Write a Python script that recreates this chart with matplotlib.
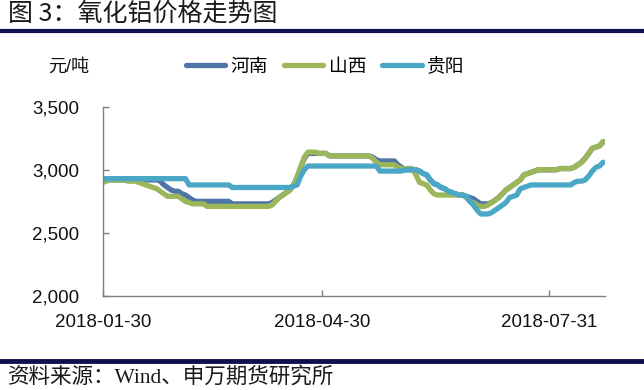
import matplotlib
matplotlib.use('Agg')
import matplotlib.pyplot as plt
from matplotlib.lines import Line2D
import numpy as np

plt.rcParams['font.family'] = ['Liberation Sans', 'Noto Sans CJK SC']
plt.rcParams['axes.unicode_minus'] = False

# 氧化铝价格（元/吨），按交易日排列
henan = [2920, 2920, 2920, 2920, 2920, 2920, 2920, 2920, 2920, 2920,
         2920, 2920, 2920, 2920, 2920, 2920, 2910, 2880, 2860, 2840,
         2830, 2830, 2810, 2800, 2780, 2760, 2750, 2750, 2750, 2750,
         2750, 2750, 2750, 2750, 2750, 2750, 2730, 2730, 2730, 2730,
         2730, 2730, 2730, 2730, 2730, 2730, 2730, 2740, 2760, 2780,
         2800, 2820, 2840, 2880, 2940, 3020, 3090, 3130, 3130, 3130,
         3130, 3130, 3130, 3110, 3110, 3110, 3110, 3110, 3110, 3110,
         3110, 3110, 3110, 3110, 3110, 3100, 3080, 3070, 3070, 3070,
         3070, 3070, 3040, 3020, 3000, 3000, 3000, 3000, 2990, 2970,
         2960, 2920, 2890, 2880, 2860, 2850, 2830, 2820, 2810, 2800,
         2800, 2790, 2780, 2770, 2750, 2730, 2730, 2730, 2740, 2760,
         2780, 2810, 2840, 2860, 2880, 2900, 2920, 2960, 2970, 2980,
         2990, 3000, 3000, 3000, 3000, 3000, 3000, 3010, 3010, 3010,
         3010, 3020, 3040, 3060, 3090, 3130, 3170, 3180, 3190, 3220]

shanxi = [2900, 2910, 2920, 2920, 2920, 2920, 2920, 2910, 2910, 2910,
          2900, 2890, 2880, 2870, 2860, 2850, 2830, 2810, 2790, 2790,
          2790, 2790, 2770, 2750, 2740, 2730, 2730, 2730, 2730, 2710,
          2710, 2710, 2710, 2710, 2710, 2710, 2710, 2710, 2710, 2710,
          2710, 2710, 2710, 2710, 2710, 2710, 2710, 2720, 2750, 2780,
          2800, 2820, 2840, 2880, 2940, 3020, 3100, 3140, 3140, 3140,
          3130, 3130, 3130, 3110, 3110, 3110, 3110, 3110, 3110, 3110,
          3110, 3110, 3110, 3110, 3110, 3090, 3060, 3040, 3040, 3040,
          3040, 3040, 3020, 3010, 3010, 3010, 3010, 2960, 2900, 2890,
          2880, 2840, 2810, 2800, 2800, 2800, 2800, 2800, 2800, 2800,
          2800, 2780, 2750, 2740, 2720, 2710, 2710, 2720, 2740, 2760,
          2780, 2810, 2840, 2860, 2880, 2900, 2920, 2960, 2970, 2980,
          2990, 3000, 3000, 3000, 3000, 3000, 3000, 3010, 3010, 3010,
          3010, 3020, 3040, 3060, 3090, 3130, 3170, 3180, 3190, 3225]

guiyang = [2930, 2930, 2930, 2930, 2930, 2930, 2930, 2930, 2930, 2930,
           2930, 2930, 2930, 2930, 2930, 2930, 2930, 2930, 2930, 2930,
           2930, 2930, 2930, 2930, 2880, 2880, 2880, 2880, 2880, 2880,
           2880, 2880, 2880, 2880, 2880, 2880, 2860, 2860, 2860, 2860,
           2860, 2860, 2860, 2860, 2860, 2860, 2860, 2860, 2860, 2860,
           2860, 2860, 2860, 2870, 2880, 2950, 3000, 3030, 3030, 3030,
           3030, 3030, 3030, 3030, 3030, 3030, 3030, 3030, 3030, 3030,
           3030, 3030, 3030, 3030, 3030, 3030, 3030, 2990, 2990, 2990,
           2990, 2990, 2990, 2990, 3000, 3000, 3000, 3000, 2990, 2970,
           2960, 2920, 2890, 2880, 2860, 2850, 2830, 2820, 2810, 2800,
           2800, 2790, 2750, 2720, 2680, 2650, 2650, 2650, 2660, 2680,
           2700, 2720, 2740, 2780, 2790, 2800, 2850, 2860, 2870, 2880,
           2880, 2880, 2880, 2880, 2880, 2880, 2880, 2880, 2880, 2880,
           2880, 2900, 2910, 2910, 2920, 2950, 2990, 3020, 3030, 3060]

series_names = ['河南', '山西', '贵阳']
series_colors = ['#4F74A8', '#9BB75A', '#4AA8C6']
tick_days = [0, 61, 124]
tick_labels = ['2018-01-30', '2018-04-30', '2018-07-31']
y_ticks = [2000, 2500, 3000, 3500]

fig = plt.figure(figsize=(6.44, 3.90), dpi=100)
ax = fig.add_axes([0.1595, 0.241, 0.7798, 0.4854])

x = np.arange(len(henan))
for vals, name, col in zip([henan, shanxi, guiyang], series_names, series_colors):
    ax.plot(x, vals, color=col, lw=3.8, label=name,
            solid_joinstyle='round', solid_capstyle='round')

ax.set_xlim(0, 139.5)
ax.set_ylim(2000, 3500)
ax.set_yticks(y_ticks)
ax.set_yticklabels([f'{v:,}' for v in y_ticks])
ax.set_xticks(tick_days)
ax.set_xticklabels(tick_labels)

for s in ['top', 'right']:
    ax.spines[s].set_visible(False)
for s in ['left', 'bottom']:
    ax.spines[s].set_color('#808080')
    ax.spines[s].set_linewidth(1)
ax.tick_params(axis='both', direction='in', length=4.5, width=1,
               color='#808080', labelsize=13.5, labelcolor='#111111')
ax.tick_params(axis='y', pad=17)
ax.tick_params(axis='x', pad=13)

leg = ax.legend(loc='center', bbox_to_anchor=(0.505, 0.828),
                bbox_transform=fig.transFigure, ncol=3, frameon=False,
                fontsize=13.5, handlelength=2.1, handletextpad=0.3,
                columnspacing=0.85)
for line in leg.get_lines():
    line.set_linewidth(3.8)

fig.text(0.075, 0.828, '元/吨', fontsize=13, va='center', ha='left',
         color='#111111')

# 标题和来源
fig.text(0.012, 0.965, '图 3：氧化铝价格走势图', fontsize=18, va='center',
         ha='left', color='#1a1a1a', weight='medium',
         family=['Noto Sans CJK SC', 'DejaVu Sans'])
fig.add_artist(Line2D([0, 1], [1 - 31 / 390, 1 - 31 / 390],
                      transform=fig.transFigure, color='#0E1150', lw=3))
fig.add_artist(Line2D([0, 1], [1 - 360.5 / 390, 1 - 360.5 / 390],
                      transform=fig.transFigure, color='#0E1150', lw=3.5))
fig.text(0.012, 1 - 377.5 / 390, '资料来源：Wind、申万期货研究所', fontsize=15.5,
         va='center', ha='left', color='#1a1a1a',
         family=['Liberation Serif', 'Noto Sans CJK SC'])

fig.savefig('out.png', dpi=100)
